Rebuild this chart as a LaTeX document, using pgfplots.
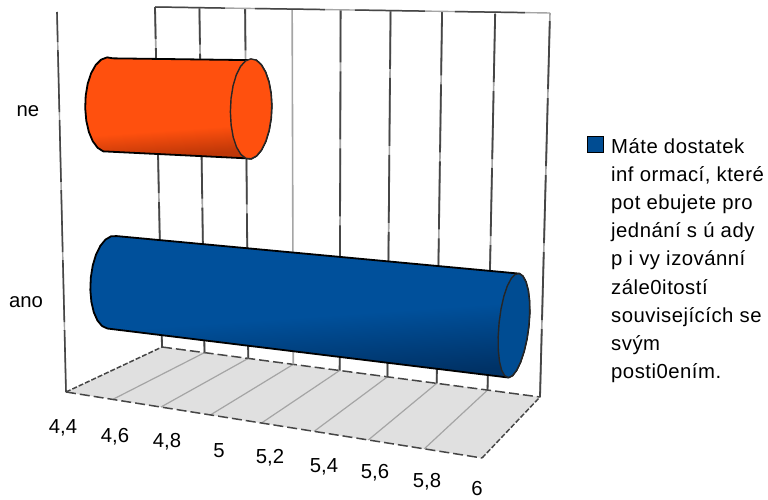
\documentclass[border=0pt]{standalone}
\usepackage{pgfplots}
\pgfplotsset{compat=1.18}
\usepackage{pgfplotstable}
\usepackage{fontspec}
\setmainfont{Liberation Sans}
\newfontfamily\legendfont[LetterSpace=2.5]{Liberation Sans}
\definecolor{bluebase}{RGB}{0,80,155}
\definecolor{bluedark}{RGB}{0,50,102}
\definecolor{bluecap}{RGB}{0,76,146}
\definecolor{orangebase}{RGB}{255,80,14}
\definecolor{orangedark}{RGB}{190,55,8}
\definecolor{griddark}{RGB}{70,70,70}
\definecolor{gridlight}{RGB}{165,165,165}
\definecolor{floorfill}{RGB}{224,224,224}
\pgfdeclareverticalshading{bluecyl}{100bp}{color(0bp)=(bluedark); color(27bp)=(bluedark); color(47bp)=(bluebase); color(100bp)=(bluebase)}
\pgfdeclareverticalshading{orangecyl}{100bp}{color(0bp)=(orangedark); color(28bp)=(orangedark); color(40bp)=(orangebase); color(100bp)=(orangebase)}
% perspective of the value axis
\pgfmathdeclarefunction{sv}{1}{\begingroup\pgfmathparse{((#1)-4.4)/1.6}\let\tt\pgfmathresult\pgfmathparse{\tt/(\tt+1.128*(1-\tt))}\pgfmathsmuggle\pgfmathresult\endgroup}
% (s,depth,height) -> picture position
\pgfmathdeclarefunction{px}{3}{\begingroup\pgfmathparse{(1-(#3))*((1-(#2))*((1-(#1))*66+(#1)*482)+(#2)*((1-(#1))*162+(#1)*540))+(#3)*((1-(#2))*((1-(#1))*57+(#1)*496)+(#2)*((1-(#1))*155+(#1)*550))}\pgfmathsmuggle\pgfmathresult\endgroup}
\pgfmathdeclarefunction{py}{3}{\begingroup\pgfmathparse{(1-(#3))*((1-(#2))*((1-(#1))*392+(#1)*458)+(#2)*((1-(#1))*347+(#1)*397))+(#3)*((1-(#2))*((1-(#1))*12+(#1)*(-2))+(#2)*((1-(#1))*7+(#1)*13))}\pgfmathsmuggle\pgfmathresult\endgroup}
\pgfplotstableread{
p q
0 0
1 1
}\segT
\pgfplotstableread{
v d h
4.4 0 0
6 0 0
6 1 0
4.4 1 0
}\floorT
\pgfplotstableread{
e c s
0 .259 .966
0 0 1
0 -.259 .966
0 -.5 .866
0 -.707 .707
0 -.866 .5
0 -.966 .259
0 -1 0
0 -.966 -.259
0 -.866 -.5
0 -.707 -.707
0 -.5 -.866
0 -.259 -.966
1 -.259 -.966
1 0 -1
1 .259 -.966
1 .5 -.866
1 .707 -.707
1 .866 -.5
1 .966 -.259
1 1 0
1 .966 .259
1 .866 .5
1 .707 .707
1 .5 .866
1 .259 .966
}\silT
\pgfplotstableread{
c s
1 0
.966 .259
.866 .5
.707 .707
.5 .866
.259 .966
0 1
-.259 .966
-.5 .866
-.707 .707
-.866 .5
-.966 .259
-1 0
-.966 -.259
-.866 -.5
-.707 -.707
-.5 -.866
-.259 -.966
0 -1
.259 -.966
.5 -.866
.707 -.707
.866 -.5
.966 -.259
}\circT
\pgfplotstableread{
x y label
63 428 4,4
115 437 4,6
167 442 4,8
219 451 5
270 458 5,2
324 467 5,4
375 473 5,6
427 482 5,8
477 489 6
28 111 ne
26 302 ano
}\labelT
% #1 value, #2 height of centre, #3 depth radius at value end, #4 height radius at value end, #5 shading, #6 cap colour, #7 shading angle, #8 depth radius at start, #9 height radius at start
\newcommand\cyl[9]{%
\addplot[forget plot,mark=none,shading=#5,shading angle=#7,draw=black,line width=1.8pt,line join=round]
  table[x expr={px(sv(4.4+\thisrow{e}*((#1)-4.4)),.5+((#8)+\thisrow{e}*((#3)-(#8)))*\thisrow{c},(#2)+((#9)+\thisrow{e}*((#4)-(#9)))*\thisrow{s})},
        y expr={py(sv(4.4+\thisrow{e}*((#1)-4.4)),.5+((#8)+\thisrow{e}*((#3)-(#8)))*\thisrow{c},(#2)+((#9)+\thisrow{e}*((#4)-(#9)))*\thisrow{s})}]{\silT} -- cycle;
\addplot[forget plot,mark=none,fill=#6,draw=black!85,line width=1.4pt,line join=round]
  table[x expr={px(sv(#1),.5+(#3)*\thisrow{c},(#2)+(#4)*\thisrow{s})},
        y expr={py(sv(#1),.5+(#3)*\thisrow{c},(#2)+(#4)*\thisrow{s})}]{\circT} -- cycle;
}
\begin{document}
\begin{tikzpicture}
\begin{axis}[
  scale only axis,width=768pt,height=500pt,
  xmin=0,xmax=768,ymin=0,ymax=500,y dir=reverse,
  hide axis,clip=false]
% floor
\addplot[forget plot,mark=none,fill=floorfill,draw=none]
  table[x expr={px(sv(\thisrow{v}),\thisrow{d},\thisrow{h})},y expr={py(sv(\thisrow{v}),\thisrow{d},\thisrow{h})}]{\floorT} -- cycle;
\pgfplotsinvokeforeach{4.6,4.8,5,5.2,5.4,5.6,5.8}{
  \addplot[forget plot,mark=none,color=gridlight,line width=1.2pt]
    table[x expr={px(sv(#1),\thisrow{p},0)},y expr={py(sv(#1),\thisrow{p},0)}]{\segT};
}
% floor edges
\addplot[forget plot,mark=none,color=griddark,line width=1.5pt,dash pattern=on 10pt off 4pt]
    table[x expr={px(\thisrow{p},0,0)},y expr={py(\thisrow{p},0,0)}]{\segT};
\addplot[forget plot,mark=none,color=griddark,line width=1.5pt,dash pattern=on 10pt off 4pt]
    table[x expr={px(\thisrow{p},1,0)},y expr={py(\thisrow{p},1,0)}]{\segT};
\addplot[forget plot,mark=none,color=griddark,line width=1.5pt,dash pattern=on 5pt off 2pt]
    table[x expr={px(0,\thisrow{p},0)},y expr={py(0,\thisrow{p},0)}]{\segT};
\addplot[forget plot,mark=none,color=griddark,line width=1.5pt,dash pattern=on 5pt off 2pt]
    table[x expr={px(1,\thisrow{p},0)},y expr={py(1,\thisrow{p},0)}]{\segT};
% wall gridlines
\pgfplotsinvokeforeach{4.4,4.6,4.8,5,5.2,5.4,5.6,5.8,6}{
  \addplot[forget plot,mark=none,color=gridlight,line width=1.6pt]
    table[x expr={px(sv(#1),1,\thisrow{p})},y expr={py(sv(#1),1,\thisrow{p})}]{\segT};
}
\pgfplotsinvokeforeach{4.4,4.6,4.8,5.2,5.4,5.6,5.8,6}{
  \addplot[forget plot,mark=none,color=griddark,line width=1.8pt,dash pattern=on 68pt off 9pt]
    table[x expr={px(sv(#1),1,\thisrow{p})},y expr={py(sv(#1),1,\thisrow{p})}]{\segT};
}
% top edge of wall
\addplot[forget plot,mark=none,color=gridlight,line width=1.4pt]
    table[x expr={px(\thisrow{p},1,1)},y expr={py(\thisrow{p},1,1)}]{\segT};
\addplot[forget plot,mark=none,color=griddark,line width=1.5pt,dash pattern=on 70pt off 30pt]
    table[x expr={px(\thisrow{p},1,1)},y expr={py(\thisrow{p},1,1)}]{\segT};
% front-left upright
\addplot[forget plot,mark=none,color=gridlight,line width=1.4pt]
    table[x expr={px(0,0,\thisrow{p})},y expr={py(0,0,\thisrow{p})}]{\segT};
\addplot[forget plot,mark=none,color=griddark,line width=1.6pt,dash pattern=on 62pt off 8pt]
    table[x expr={px(0,0,\thisrow{p})},y expr={py(0,0,\thisrow{p})}]{\segT};
% bars: ne = 5, ano = 6
\cyl{5}{.736}{.25}{.131}{orangecyl}{orangebase}{4}{.235}{.131}
\cyl{6}{.243}{.276}{.12}{bluecyl}{bluecap}{4}{.225}{.127}
% tick and category labels
\addplot[forget plot,only marks,mark size=0,point meta=explicit symbolic,
  nodes near coords,
  every node near coord/.style={anchor=center,inner sep=0pt,font=\fontsize{20.3}{24}\selectfont,text=black}]
  table[x=x,y=y,meta=label]{\labelT};
% legend
\addplot[forget plot,only marks,mark=square*,mark size=8pt,mark options={fill=bluecap,draw=black,line width=.6pt}] coordinates {(595,144)};
\node[anchor=north west,inner sep=0pt,align=left,font=\legendfont\fontsize{20.3}{28.2}\selectfont] at (axis cs:611,138)
 {Máte dostatek\\inf ormací, které\\pot ebujete pro\\jednání s ú ady\\p i vy izovánní\\zále0itostí\\souvisejících se\\svým\\posti0ením.};
\end{axis}
\pgfresetboundingbox
\useasboundingbox (current axis.south west) rectangle (current axis.north east);
\end{tikzpicture}
\end{document}
